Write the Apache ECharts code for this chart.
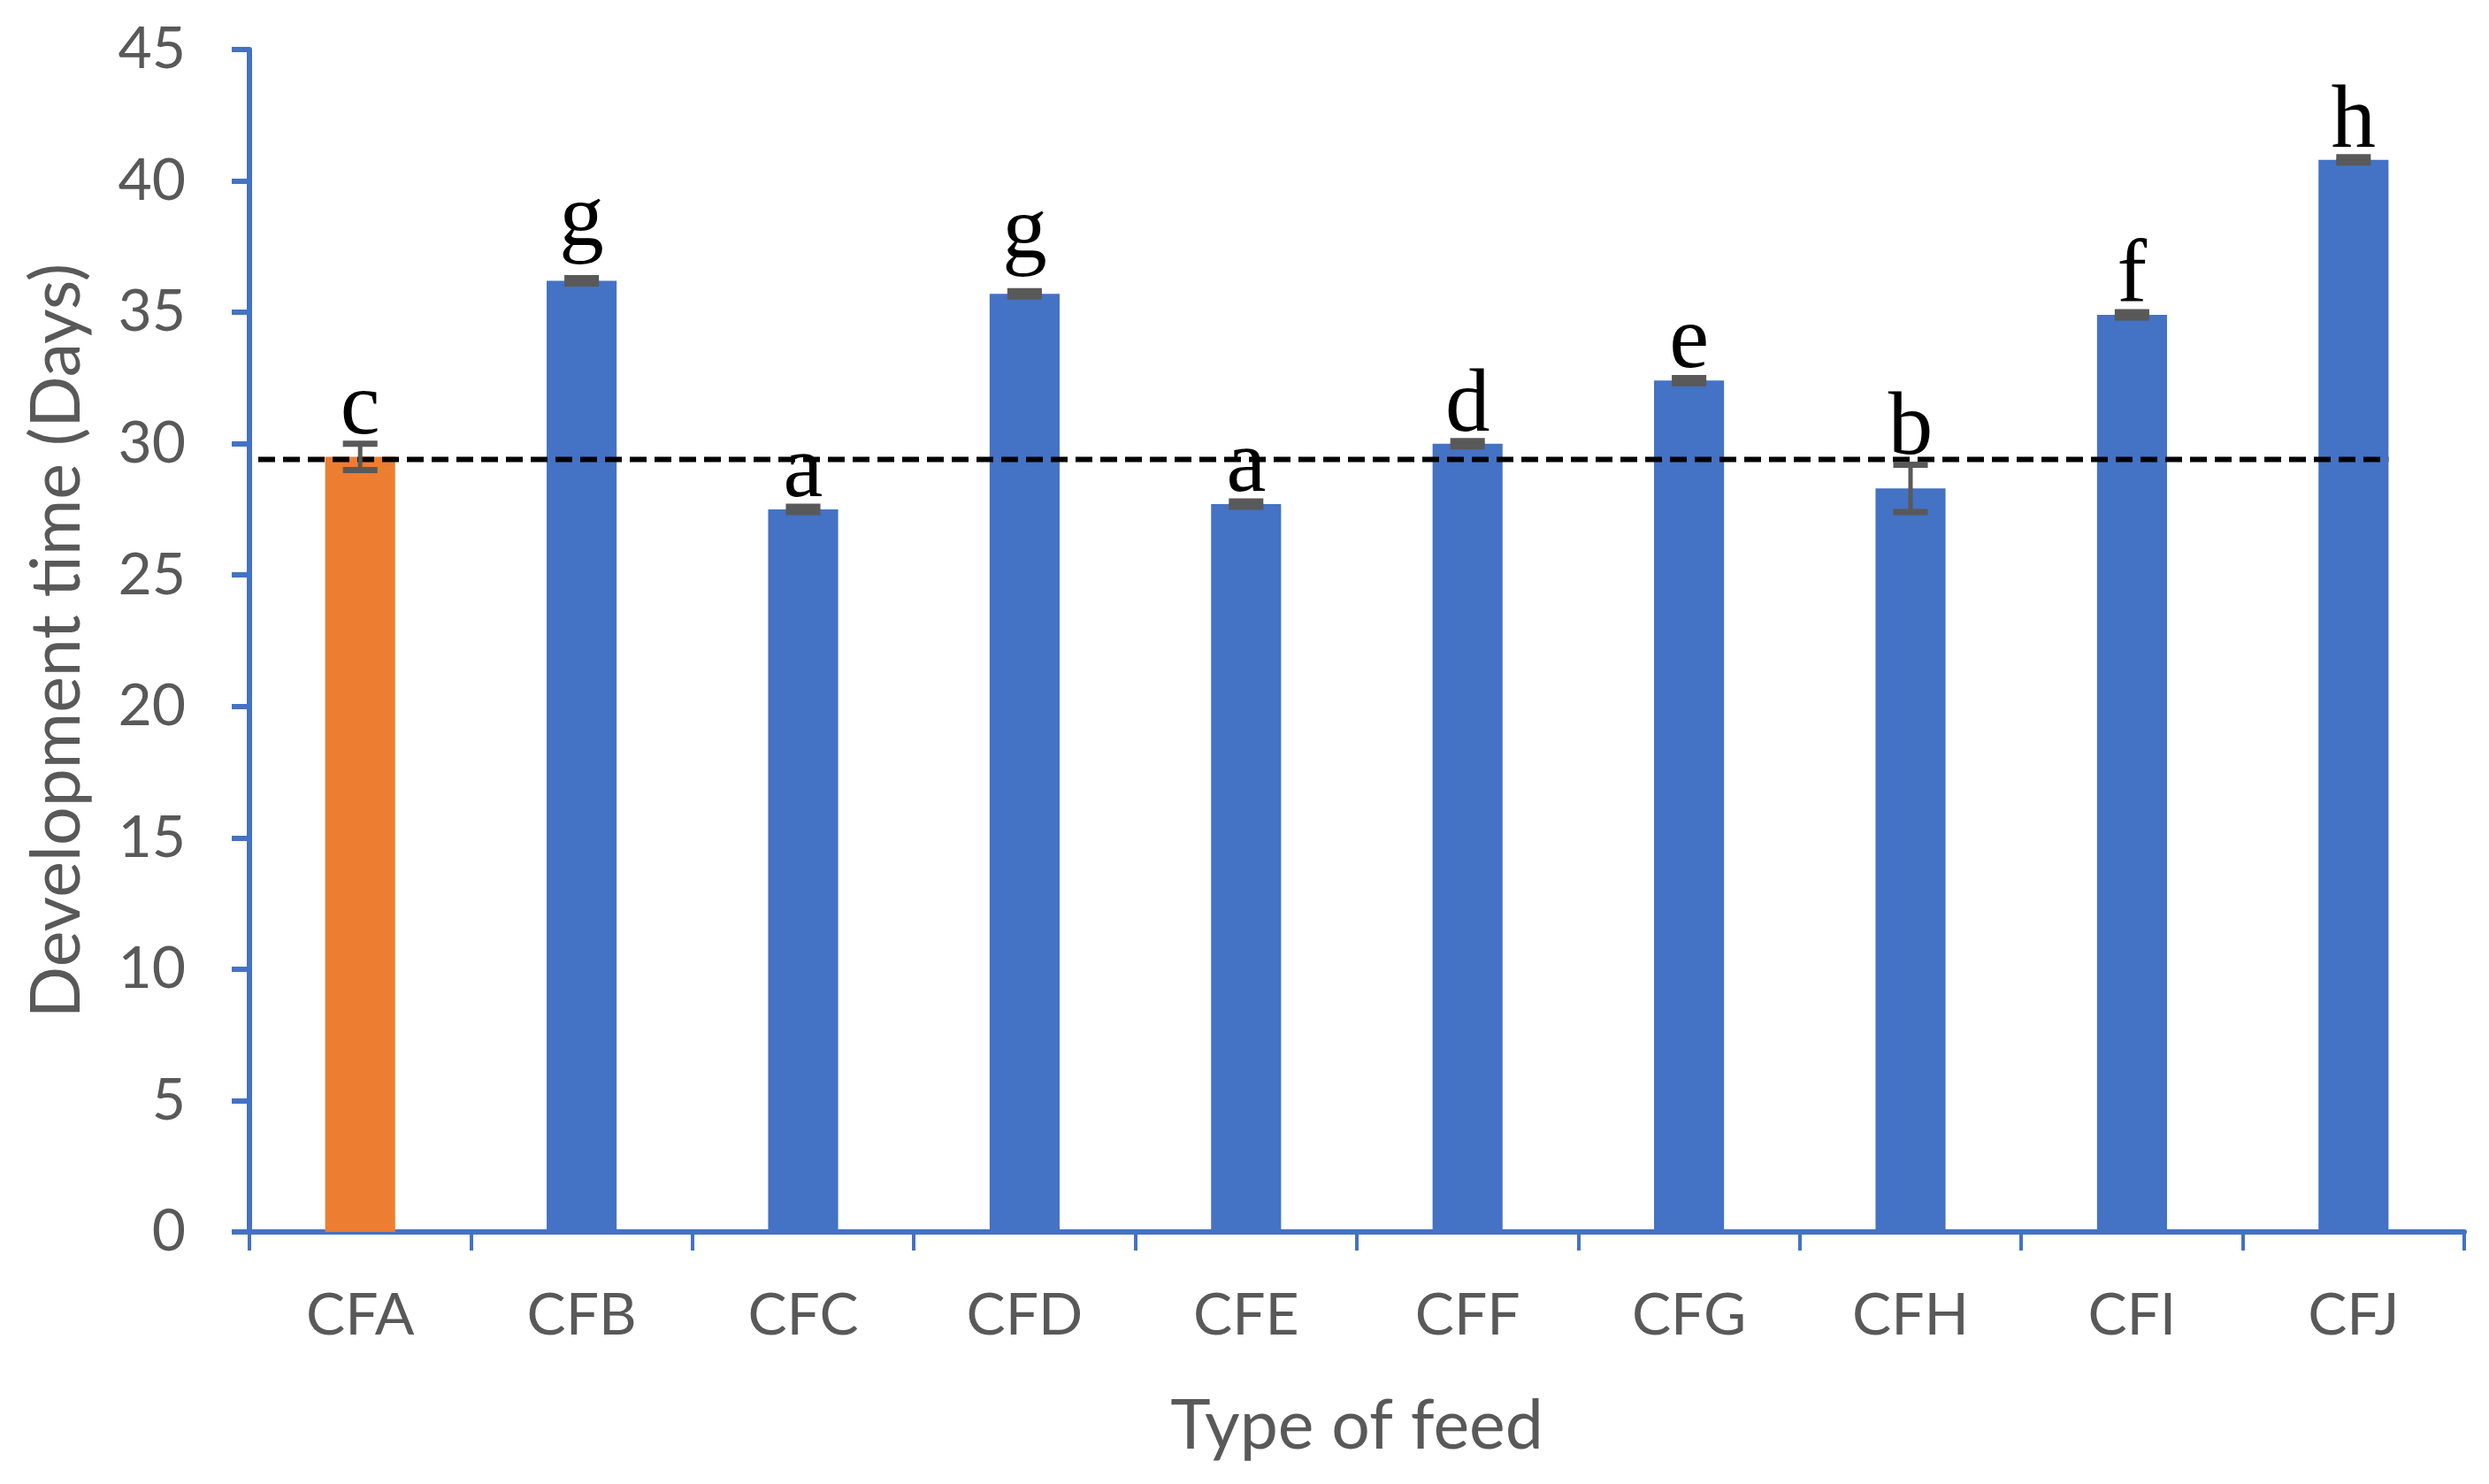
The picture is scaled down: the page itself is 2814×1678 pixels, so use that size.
<!DOCTYPE html>
<html>
<head>
<meta charset="utf-8">
<script src="https://cdn.jsdelivr.net/npm/echarts@6/dist/echarts.min.js"></script>
<style>
html, body { margin: 0; padding: 0; background: #ffffff; }
#chart { width: 2814px; height: 1678px; }
</style>
</head>
<body>
<div id="chart"></div>
<script>
// ---- data ----
const categories = ['CFA', 'CFB', 'CFC', 'CFD', 'CFE', 'CFF', 'CFG', 'CFH', 'CFI', 'CFJ'];
const means = [29.5, 36.2, 27.5, 35.7, 27.7, 30.0, 32.4, 28.3, 34.9, 40.8];
const errors = [0.5, 0.1, 0.1, 0.1, 0.1, 0.1, 0.1, 0.9, 0.1, 0.1];
const letters = ['c', 'g', 'a', 'g', 'a', 'd', 'e', 'b', 'f', 'h'];
const referenceValue = 29.4;
const yMin = 0, yMax = 45, yStep = 5;

// ---- styles ----
const BLUE = '#4472C4';
const ORANGE = '#ED7D31';
const GREY = '#595959';
const SANS = 'Lato, "Open Sans", sans-serif';
const SERIF = '"Liberation Serif", "Times New Roman", serif';
const BAR_RATIO = 0.316;

const chart = echarts.init(document.getElementById('chart'), null, { renderer: 'canvas' });

const errData = categories.map((c, i) => [i, means[i], errors[i]]);

const option = {
  backgroundColor: '#ffffff',
  animation: false,
  grid: { left: 282, right: 28, top: 56, bottom: 285, containLabel: false },
  xAxis: {
    type: 'category',
    data: categories,
    boundaryGap: true,
    name: 'Type of feed',
    nameLocation: 'middle',
    nameGap: 182,
    nameTextStyle: { fontFamily: SANS, fontSize: 77, color: GREY },
    axisLine: { show: true, lineStyle: { color: BLUE, width: 6 } },
    axisTick: { show: true, length: 21, lineStyle: { color: BLUE, width: 4 } },
    axisLabel: { fontFamily: SANS, fontSize: 66, color: GREY, margin: 62 },
    splitLine: { show: false }
  },
  yAxis: {
    type: 'value',
    min: yMin, max: yMax, interval: yStep,
    name: 'Development time (Days)',
    nameLocation: 'middle',
    nameGap: 178,
    nameRotate: 90,
    nameTextStyle: { fontFamily: SANS, fontSize: 77, color: GREY },
    axisLine: { show: true, lineStyle: { color: BLUE, width: 6 } },
    axisTick: { show: true, length: 20, lineStyle: { color: BLUE, width: 6 } },
    axisLabel: { fontFamily: SANS, fontSize: 66, color: GREY, margin: 72 },
    splitLine: { show: false }
  },
  series: [
    {
      type: 'bar',
      data: means,
      barWidth: (BAR_RATIO * 100) + '%',
      itemStyle: { color: p => (p.dataIndex === 0 ? ORANGE : BLUE) },
      z: 2
    },
    {
      type: 'custom',
      data: [[0, categories.length - 1, referenceValue]],
      z: 3,
      renderItem: function (params, api) {
        const band = api.size([1, 0])[0];
        const p0 = api.coord([api.value(0), api.value(2)]);
        const p1 = api.coord([api.value(1), api.value(2)]);
        return {
          type: 'line',
          shape: { x1: p0[0] - band / 2 + 10, y1: p0[1], x2: p1[0] + band * BAR_RATIO / 2, y2: p1[1] },
          style: { stroke: '#000000', lineWidth: 6, lineDash: [19, 9] }
        };
      }
    },
    {
      type: 'custom',
      data: errData,
      z: 4,
      renderItem: function (params, api) {
        const band = api.size([1, 0])[0];
        const i = api.value(0), m = api.value(1), e = api.value(2);
        const top = api.coord([i, m + e]);
        const bot = api.coord([i, m - e]);
        const half = band * 0.078;
        const letter = letters[params.dataIndex];
        const lift = /[gjpqy]/.test(letter) ? 26 : 0;
        return {
          type: 'group',
          children: [
            { type: 'line', shape: { x1: top[0], y1: top[1], x2: bot[0], y2: bot[1] }, style: { stroke: GREY, lineWidth: 5 } },
            { type: 'line', shape: { x1: top[0] - half, y1: top[1], x2: top[0] + half, y2: top[1] }, style: { stroke: GREY, lineWidth: 7 } },
            { type: 'line', shape: { x1: bot[0] - half, y1: bot[1], x2: bot[0] + half, y2: bot[1] }, style: { stroke: GREY, lineWidth: 7 } },
            {
              type: 'text',
              style: {
                text: letter, x: top[0], y: top[1] + 12 - lift,
                align: 'center', verticalAlign: 'bottom',
                fontFamily: SERIF, fontSize: 101, fill: '#000000'
              }
            }
          ]
        };
      }
    }
  ]
};

chart.setOption(option);
</script>
</body>
</html>
